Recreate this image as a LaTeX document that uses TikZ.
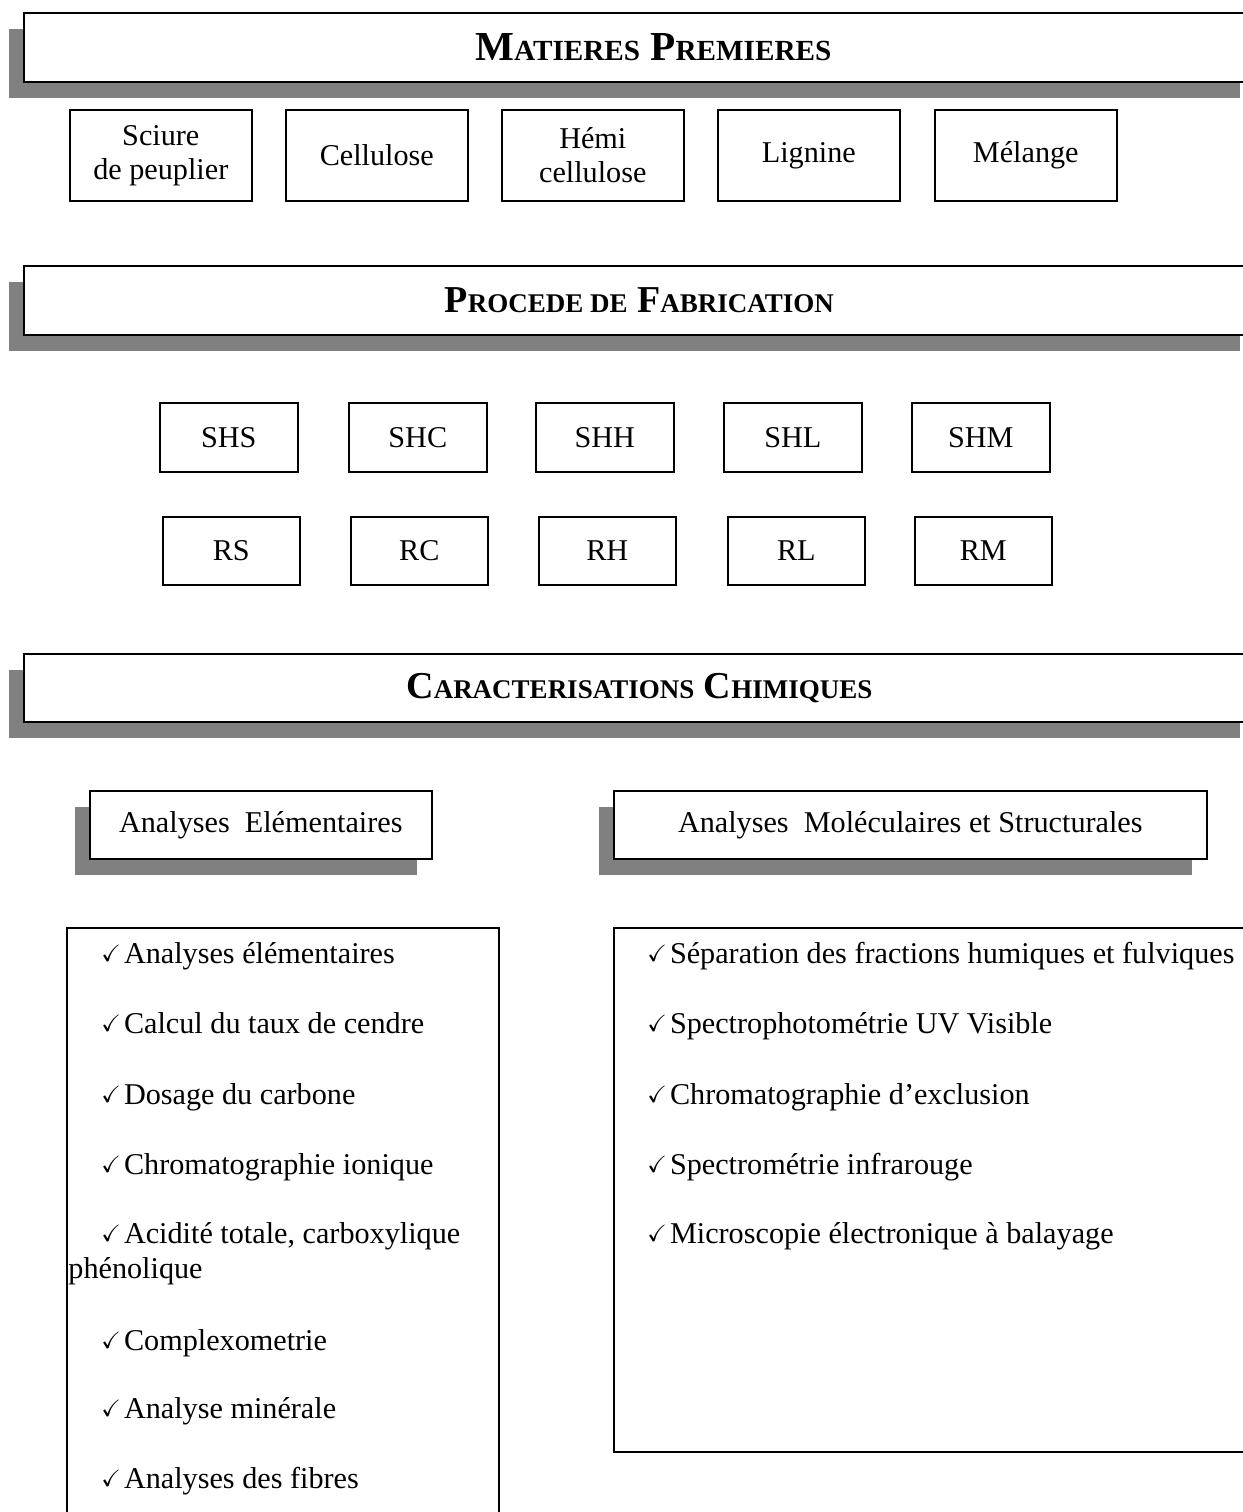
\documentclass[tikz,border=0pt]{standalone}
\usepackage{fontspec}
\setmainfont{Liberation Serif}
\usepackage{amssymb}
\usepackage{graphicx}
\usetikzlibrary{shadows}

% reduced capitals for the section headings
\newcommand\hcap[1]{{\fontsize{13.5pt}{13.5pt}\selectfont #1}}
\newcommand\hcapw[1]{{\fontsize{14.6pt}{14.6pt}\selectfont #1}}
% small tick in front of each list entry
\newcommand\chk{\raisebox{0.8pt}{\scalebox{0.78}{$\checkmark$}}\hspace{1.5pt}}

\begin{document}
\begin{tikzpicture}[x=0.5pt,y=-0.5pt,
  every node/.style={font=\fontsize{15.1pt}{17pt}\selectfont},
  dropshade/.style={general shadow={fill=gray, shadow xshift=-7.5pt, shadow yshift=-8pt}},
  frame/.style={draw, line width=0.8pt, fill=white, anchor=north west, inner sep=0pt},
  banner/.style={frame, dropshade, minimum width=615.5pt, minimum height=34.5pt,
    font=\bfseries\fontsize{19pt}{19pt}\selectfont},
  matbox/.style={frame, minimum width=91pt, minimum height=45.5pt, align=center},
  shbox/.style={frame, minimum width=69pt, minimum height=34.5pt},
  rbox/.style={frame, minimum width=68.5pt, minimum height=34pt},
  subhead/.style={frame, dropshade, minimum height=34pt},
  listbox/.style={frame},
  item/.style={anchor=base west, inner sep=0pt},
]
\useasboundingbox (0,0) rectangle (1243,1512);
\clip (0,0) rectangle (1243,1512);

% ---- raw materials ----
\node[banner, font=\bfseries\fontsize{20.6pt}{20.6pt}\selectfont] (mp) at (23,12)
  {\hspace*{14pt}M\hcapw{ATIERES} P\hcapw{REMIERES}};
\node[matbox] (sciure) at (69,109)  {Sciure\\de peuplier};
\node[matbox] (cell)   at (285,109) {Cellulose};
\node[matbox] (hemi)   at (501,109) {Hémi\\cellulose};
\node[matbox] (lign)   at (717,109) {Lignine};
\node[matbox] (mel)    at (934,109) {Mélange};

% ---- process ----
\node[banner] (pf) at (23,265) {P\hcap{ROCEDE DE} F\hcap{ABRICATION}};
\node[shbox] (shs) at (159,402) {SHS};
\node[shbox] (shc) at (348,402) {SHC};
\node[shbox] (shh) at (535,402) {SHH};
\node[shbox] (shl) at (723,402) {SHL};
\node[shbox] (shm) at (911,402) {SHM};
\node[rbox] (rs) at (162,516) {RS};
\node[rbox] (rc) at (350,516) {RC};
\node[rbox] (rh) at (538,516) {RH};
\node[rbox] (rl) at (727,516) {RL};
\node[rbox] (rm) at (914,516) {RM};

% ---- chemical characterisation ----
\node[banner, minimum height=34pt] (cc) at (23,653) {C\hcap{ARACTERISATIONS} C\hcap{HIMIQUES}};
\node[subhead, minimum width=171pt] (ae) at (89,790) {Analyses\ \ Elémentaires};
\node[subhead, minimum width=296.5pt] (am) at (613,790) {Analyses\ \ Moléculaires et Structurales};

\node[listbox, minimum width=216pt, minimum height=310pt] (le) at (66,927) {};
\node[listbox, minimum width=323.5pt, minimum height=262pt] (lm) at (613,927) {};

% elemental analyses
\node[item] (e1) at (101,963)  {\chk Analyses élémentaires};
\node[item] (e2) at (101,1033) {\chk Calcul du taux de cendre};
\node[item] (e3) at (101,1104) {\chk Dosage du carbone};
\node[item] (e4) at (101,1174) {\chk Chromatographie ionique};
\node[item] (e5) at (101,1243) {\chk Acidité totale, carboxylique};
\node[item] (e5b) at (68,1278) {phénolique};
\node[item] (e6) at (101,1350) {\chk Complexometrie};
\node[item] (e7) at (101,1418) {\chk Analyse minérale};
\node[item] (e8) at (101,1488) {\chk Analyses des fibres};

% molecular and structural analyses
\node[item] (m1) at (647,963)  {\chk Séparation des fractions humiques et fulviques};
\node[item] (m2) at (647,1033) {\chk Spectrophotométrie UV Visible};
\node[item] (m3) at (647,1104) {\chk Chromatographie d’exclusion};
\node[item] (m4) at (647,1174) {\chk Spectrométrie infrarouge};
\node[item] (m5) at (647,1243) {\chk Microscopie électronique à balayage};
\end{tikzpicture}
\end{document}
